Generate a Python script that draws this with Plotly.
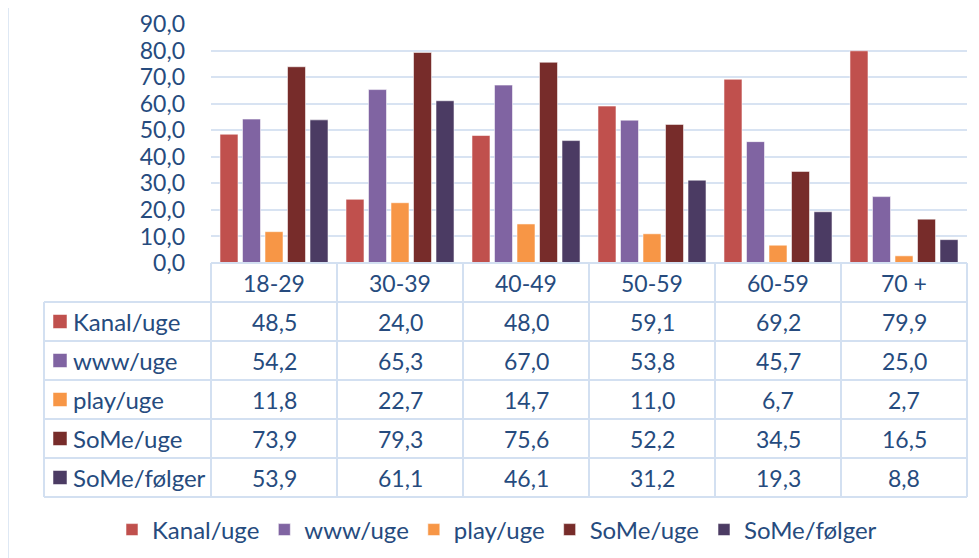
import plotly.graph_objects as go

# ---------------- data ----------------
categories = ["18-29", "30-39", "40-49", "50-59", "60-59", "70 +"]
series_names = ["Kanal/uge", "www/uge", "play/uge", "SoMe/uge", "SoMe/følger"]
kanal_uge = [48.5, 24.0, 48.0, 59.1, 69.2, 79.9]
www_uge = [54.2, 65.3, 67.0, 53.8, 45.7, 25.0]
play_uge = [11.8, 22.7, 14.7, 11.0, 6.7, 2.7]
some_uge = [73.9, 79.3, 75.6, 52.2, 34.5, 16.5]
some_folger = [53.9, 61.1, 46.1, 31.2, 19.3, 8.8]
y_ticks = [0, 10, 20, 30, 40, 50, 60, 70, 80, 90]

series_values = [kanal_uge, www_uge, play_uge, some_uge, some_folger]
colors = ["#c0504d", "#8064a2", "#f79646", "#772c2a", "#4b3b63"]

# ---------------- style / layout constants (screen px) ----------------
W, H = 979, 558
OFF = 8                                   # page body margin
PL, PR, PT, PB = 211, 967, 24, 263        # plot area on screen
FONT = "Lato"
TXT = "#264b7e"
GRID = "#d8e3f2"
LINE = "#d3e0f1"
FS = 23
FS_LBL = 24
ROW_H = 39
LABEL_LEFT = 44


def px_x(px):
    return (px - PL) / (PR - PL)


def px_y(py):
    return (PB - py) / (PB - PT)


n = len(categories)
xs = list(range(n))

fig = go.Figure()
for name, vals, col in zip(series_names, series_values, colors):
    fig.add_trace(go.Bar(
        x=xs, y=vals, name=name,
        marker=dict(color=col, line=dict(color="rgba(255,255,255,0.55)", width=1)),
        hoverinfo="skip",
    ))

shapes = []
annotations = []

# chart-area left border
shapes.append(dict(type="line", xref="paper", yref="paper",
                   x0=px_x(8), x1=px_x(8), y0=px_y(0), y1=px_y(H + 20),
                   line=dict(color=LINE, width=1.5)))

n_rows = len(series_names)
table_bottom = PB + ROW_H * (n_rows + 1)

# horizontal table lines
shapes.append(dict(type="line", xref="paper", yref="paper",
                   x0=0, x1=1, y0=0, y1=0, line=dict(color=LINE, width=2)))
for r in range(n_rows + 1):
    yy = PB + ROW_H * (r + 1)
    shapes.append(dict(type="line", xref="paper", yref="paper",
                       x0=px_x(LABEL_LEFT), x1=1, y0=px_y(yy), y1=px_y(yy),
                       line=dict(color=LINE, width=2)))
# vertical table lines
for c in range(n + 1):
    shapes.append(dict(type="line", xref="paper", yref="paper",
                       x0=c / n, x1=c / n, y0=0, y1=px_y(table_bottom),
                       line=dict(color=LINE, width=2)))
shapes.append(dict(type="line", xref="paper", yref="paper",
                   x0=px_x(LABEL_LEFT), x1=px_x(LABEL_LEFT),
                   y0=px_y(PB + ROW_H), y1=px_y(table_bottom),
                   line=dict(color=LINE, width=2)))

# header labels
for i, cat in enumerate(categories):
    annotations.append(dict(x=i, xref="x", y=px_y(PB + ROW_H / 2), yref="paper",
                            text=cat, showarrow=False,
                            font=dict(family=FONT, size=FS, color=TXT),
                            xanchor="center", yanchor="middle"))

# rows
for r, (name, vals, col) in enumerate(zip(series_names, series_values, colors)):
    yc = PB + ROW_H * (r + 1) + ROW_H / 2
    shapes.append(dict(type="rect", xref="paper", yref="paper",
                       x0=px_x(53), x1=px_x(67), y0=px_y(yc - 7), y1=px_y(yc + 7),
                       fillcolor=col, line=dict(color="rgba(255,255,255,0.5)", width=1)))
    annotations.append(dict(x=px_x(71), xref="paper", y=px_y(yc), yref="paper",
                            text=name, showarrow=False,
                            font=dict(family=FONT, size=FS_LBL, color=TXT),
                            xanchor="left", yanchor="middle"))
    for i, v in enumerate(vals):
        annotations.append(dict(x=i, xref="x", y=px_y(yc), yref="paper",
                                text=f"{v:.1f}".replace(".", ","), showarrow=False,
                                font=dict(family=FONT, size=FS, color=TXT),
                                xanchor="center", yanchor="middle"))

fig.update_layout(
    width=W, height=H,
    margin=dict(l=PL - OFF, r=W - (PR - OFF), t=PT - OFF, b=H - (PB - OFF),
                autoexpand=False),
    paper_bgcolor="white", plot_bgcolor="white",
    separators=",.",
    font=dict(family=FONT, size=FS, color=TXT),
    barmode="group", bargap=0.107, bargroupgap=0.2,
    showlegend=True,
    legend=dict(orientation="h", xref="paper", yref="paper",
                x=px_x(112), xanchor="left", y=px_y(530), yanchor="middle",
                font=dict(family=FONT, size=FS_LBL, color=TXT),
                itemclick=False, itemdoubleclick=False),
    xaxis=dict(range=[-0.5, n - 0.5], showticklabels=False, showgrid=False,
               zeroline=False, showline=False, ticks="", fixedrange=True,
               automargin=False),
    yaxis=dict(range=[0, 90], tickvals=y_ticks, tickformat=".1f",
               showgrid=True, gridcolor=GRID, gridwidth=2,
               zeroline=False, showline=False, ticks="",
               ticklabelstandoff=25, automargin=False,
               tickfont=dict(family=FONT, size=FS, color=TXT), fixedrange=True),
    shapes=shapes,
    annotations=annotations,
)

fig.write_html("out.html")
